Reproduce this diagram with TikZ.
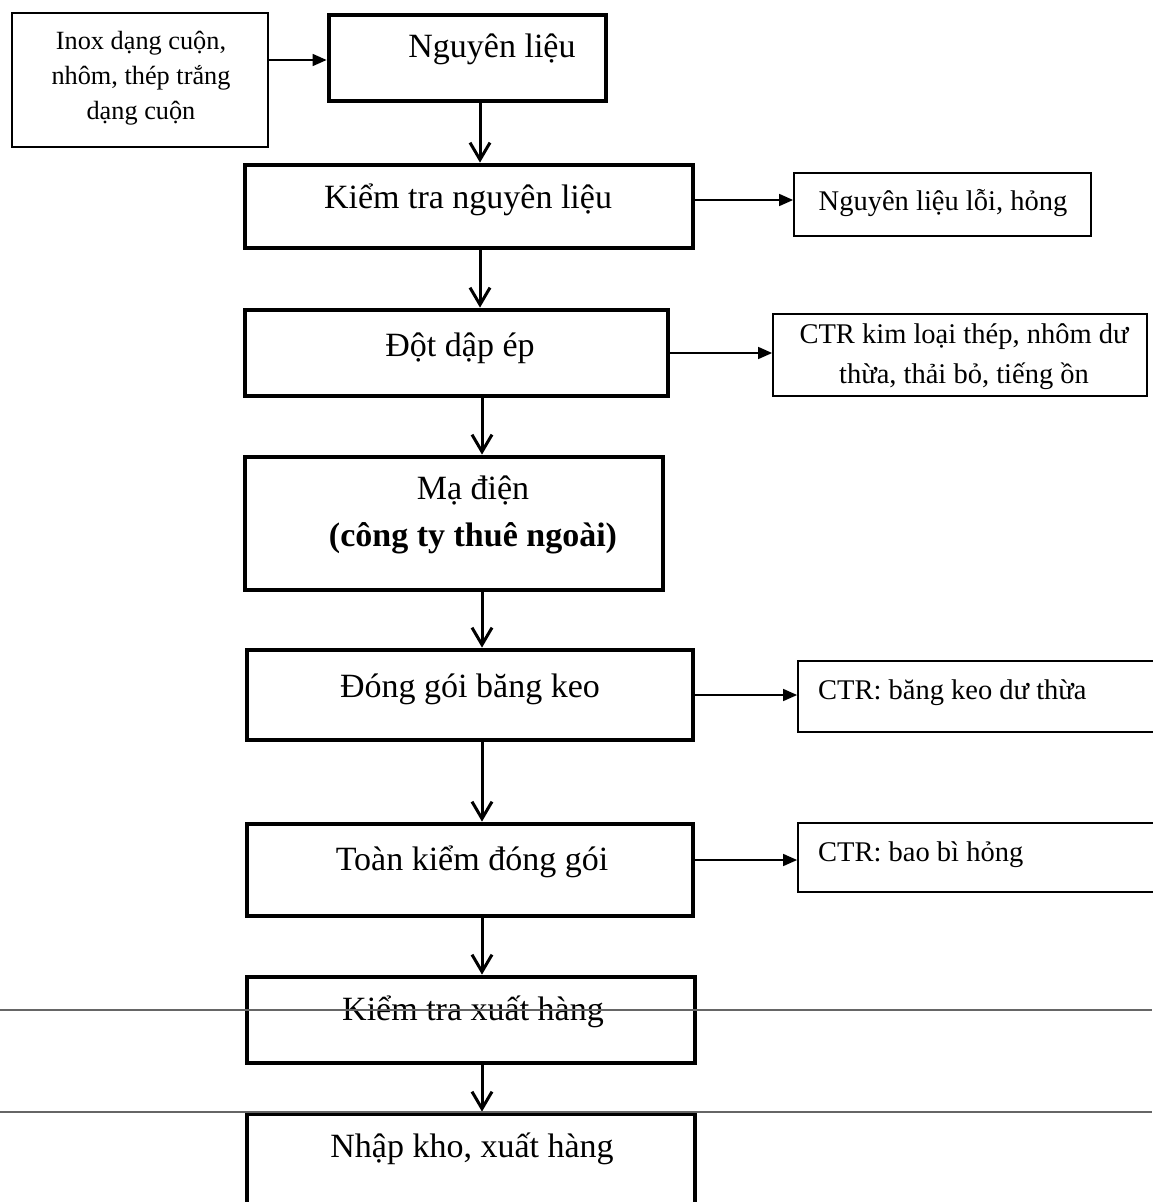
\documentclass[tikz,border=0pt]{standalone}
\usepackage{fontspec}
\setmainfont{Liberation Serif}
\usetikzlibrary{arrows.meta}

\begin{document}
\begin{tikzpicture}[x=1pt, y=-1pt,
  procbox/.style={draw, line width=4.8pt, inner sep=0pt},
  sidebox/.style={draw, line width=1.8pt, inner sep=0pt},
  proctext/.style={font=\fontsize{34}{47}\selectfont, inner sep=0pt, align=center},
  sidetext/.style={font=\fontsize{28.5}{40}\selectfont, inner sep=0pt, align=center},
  srctext/.style={font=\fontsize{26.3}{35}\selectfont, inner sep=0pt, align=center},
  flow/.style={line width=3pt, -{Straight Barb[length=17pt,width=20pt,line width=3pt]}},
  waste/.style={line width=1.6pt, -{Triangle[length=14pt,width=12pt]}},
  rule/.style={line width=2pt, black!60},
]
\useasboundingbox (0,0) rectangle (1152,1202);

% input material
\node[sidebox, minimum width=256pt, minimum height=134pt] (inox) at (140,80) {};
\node[srctext] (inoxt) at (141,78) {Inox dạng cuộn,\\nhôm, thép trắng\\dạng cuộn};

% main process chain
\node[procbox, minimum width=277pt, minimum height=86pt]  (n1) at (467.5,58) {};
\node[procbox, minimum width=448pt, minimum height=83pt]  (n2) at (469,206.5) {};
\node[procbox, minimum width=423pt, minimum height=86pt]  (n3) at (456.5,353) {};
\node[procbox, minimum width=418pt, minimum height=133pt] (n4) at (454,523.5) {};
\node[procbox, minimum width=446pt, minimum height=90pt]  (n5) at (470,695) {};
\node[procbox, minimum width=446pt, minimum height=92pt]  (n6) at (470,870) {};
\node[procbox, minimum width=448pt, minimum height=86pt]  (n7) at (471,1020) {};
\node[procbox, minimum width=448pt, minimum height=96pt]  (n8) at (471,1162) {};

\node[proctext, anchor=base] (n1t) at (492,57)   {Nguyên liệu};
\node[proctext, anchor=base] (n2t) at (468,208)  {Kiểm tra nguyên liệu};
\node[proctext, anchor=base] (n3t) at (460,356)  {Đột dập ép};
\node[proctext] (n4t) at (473,515) {Mạ điện\\\textbf{(công ty thuê ngoài)}};
\node[proctext, anchor=base] (n5t) at (470,697)  {Đóng gói băng keo};
\node[proctext, anchor=base] (n6t) at (472,870)  {Toàn kiểm đóng gói};
\node[proctext, anchor=base] (n7t) at (473,1020) {Kiểm tra xuất hàng};
\node[proctext, anchor=base] (n8t) at (472,1157) {Nhập kho, xuất hàng};

% waste / by-product outputs
\node[sidebox, minimum width=297pt, minimum height=63pt] (s1) at (942.5,204.5) {};
\node[sidebox, minimum width=374pt, minimum height=82pt] (s2) at (960,355) {};
\node[sidebox, minimum width=372pt, minimum height=71pt] (s3) at (984,696.5) {};
\node[sidebox, minimum width=372pt, minimum height=69pt] (s4) at (984,857.5) {};

\node[sidetext, anchor=base] (s1t) at (943,210) {Nguyên liệu lỗi, hỏng};
\node[sidetext] (s2t) at (964,357) {CTR kim loại thép, nhôm dư\\thừa, thải bỏ, tiếng ồn};
\node[sidetext, anchor=base west] (s3t) at (818,699) {CTR: băng keo dư thừa};
\node[sidetext, anchor=base west] (s4t) at (818,861) {CTR: bao bì hỏng};

% arrows down the chain
\coordinate (va) at (480,0);
\coordinate (vb) at (482,0);
\draw[flow] (va |- n1.south) -- (va |- n2.north);
\draw[flow] (va |- n2.south) -- (va |- n3.north);
\draw[flow] (vb |- n3.south) -- (vb |- n4.north);
\draw[flow] (vb |- n4.south) -- (vb |- n5.north);
\draw[flow] (vb |- n5.south) -- (vb |- n6.north);
\draw[flow] (vb |- n6.south) -- (vb |- n7.north);
\draw[flow] (vb |- n7.south) -- (vb |- n8.north);

% side arrows
\coordinate (h0) at (0,60);
\coordinate (h1) at (0,200);
\coordinate (h2) at (0,353);
\coordinate (h3) at (0,695);
\coordinate (h4) at (0,860);
\draw[waste] (inox.east |- h0) -- (n1.west |- h0);
\draw[waste] (n2.east |- h1) -- (s1.west |- h1);
\draw[waste] (n3.east |- h2) -- (s2.west |- h2);
\draw[waste] (n5.east |- h3) -- (s3.west |- h3);
\draw[waste] (n6.east |- h4) -- (s4.west |- h4);

% horizontal rules running across the page
\coordinate (ra) at (0,1010);
\coordinate (rb) at (1152,1010);
\coordinate (rc) at (0,1112);
\coordinate (rd) at (1152,1112);
\draw[rule] (ra) -- (rb);
\draw[rule] (rc) -- (rd);
\end{tikzpicture}
\end{document}
